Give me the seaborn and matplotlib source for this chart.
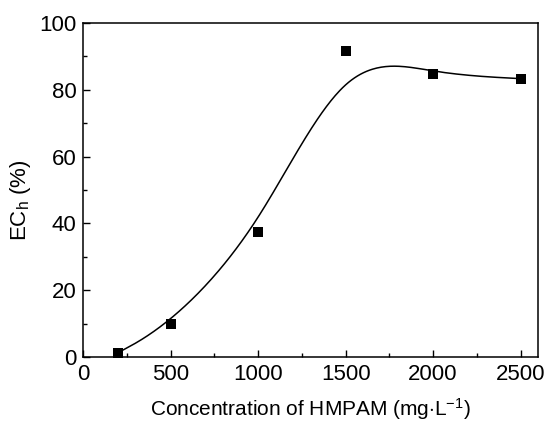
import numpy as np
import pandas as pd
import matplotlib
matplotlib.use("Agg")
import matplotlib.pyplot as plt
import seaborn as sns
from matplotlib.ticker import MultipleLocator

# Data
conc = [200, 500, 1000, 1500, 2000, 2500]
ech = [1.3, 9.8, 37.5, 91.6, 84.7, 83.3]


def bspline(px, py, n=60):
    """Uniform cubic B-spline with the data as control points,
    end points repeated so the curve starts and ends on them (Origin style)."""
    pts = np.column_stack([px, py]).astype(float)
    ctrl = np.vstack([pts[:1], pts[:1], pts, pts[-1:], pts[-1:]])
    M = np.array([[-1, 3, -3, 1],
                  [3, -6, 3, 0],
                  [-3, 0, 3, 0],
                  [1, 4, 1, 0]]) / 6.0
    t = np.linspace(0, 1, n)
    T = np.column_stack([t ** 3, t ** 2, t, np.ones_like(t)])
    segs = []
    for i in range(len(ctrl) - 3):
        segs.append(T @ M @ ctrl[i:i + 4])
    return np.vstack(segs)


sns.set_theme(style="white")
plt.rcParams["font.family"] = ["Liberation Sans", "DejaVu Sans"]
plt.rcParams["mathtext.fontset"] = "custom"
plt.rcParams["mathtext.rm"] = "Liberation Sans"
plt.rcParams["mathtext.it"] = "Liberation Sans"

df = pd.DataFrame({"conc": conc, "ech": ech})
curve = bspline(conc, ech)
cdf = pd.DataFrame({"x": curve[:, 0], "y": curve[:, 1]})

fig, ax = plt.subplots(figsize=(5.44, 4.23), dpi=100)
sns.lineplot(data=cdf, x="x", y="y", ax=ax, color="black", linewidth=1.1,
             sort=False, estimator=None)
sns.scatterplot(data=df, x="conc", y="ech", ax=ax, marker="s", s=55,
                color="black", edgecolor="black", linewidth=0, zorder=3)

ax.set_xlim(0, 2600)
ax.set_ylim(0, 100)
ax.xaxis.set_major_locator(MultipleLocator(500))
ax.xaxis.set_minor_locator(MultipleLocator(250))
ax.yaxis.set_major_locator(MultipleLocator(20))
ax.yaxis.set_minor_locator(MultipleLocator(10))
ax.tick_params(which="major", direction="in", length=5, width=1,
               labelsize=16, color="black", labelcolor="black",
               top=False, right=False, bottom=True, left=True, pad=5)
ax.tick_params(which="minor", direction="in", length=3, width=1,
               top=False, right=False, bottom=True, left=True, color="black")
for sp in ax.spines.values():
    sp.set_color("black")
    sp.set_linewidth(1.1)

ax.set_xlabel("Concentration of HMPAM (mg$\\cdot$L$^{-1}$)", fontsize=15,
              color="black", labelpad=8)
ax.set_ylabel("EC$_\\mathrm{h}$ (%)", fontsize=16, color="black")
ax.yaxis.set_label_coords(-0.11, 0.47)

fig.subplots_adjust(left=0.153, right=0.989, top=0.946, bottom=0.156)
fig.savefig("out.png", dpi=100)
